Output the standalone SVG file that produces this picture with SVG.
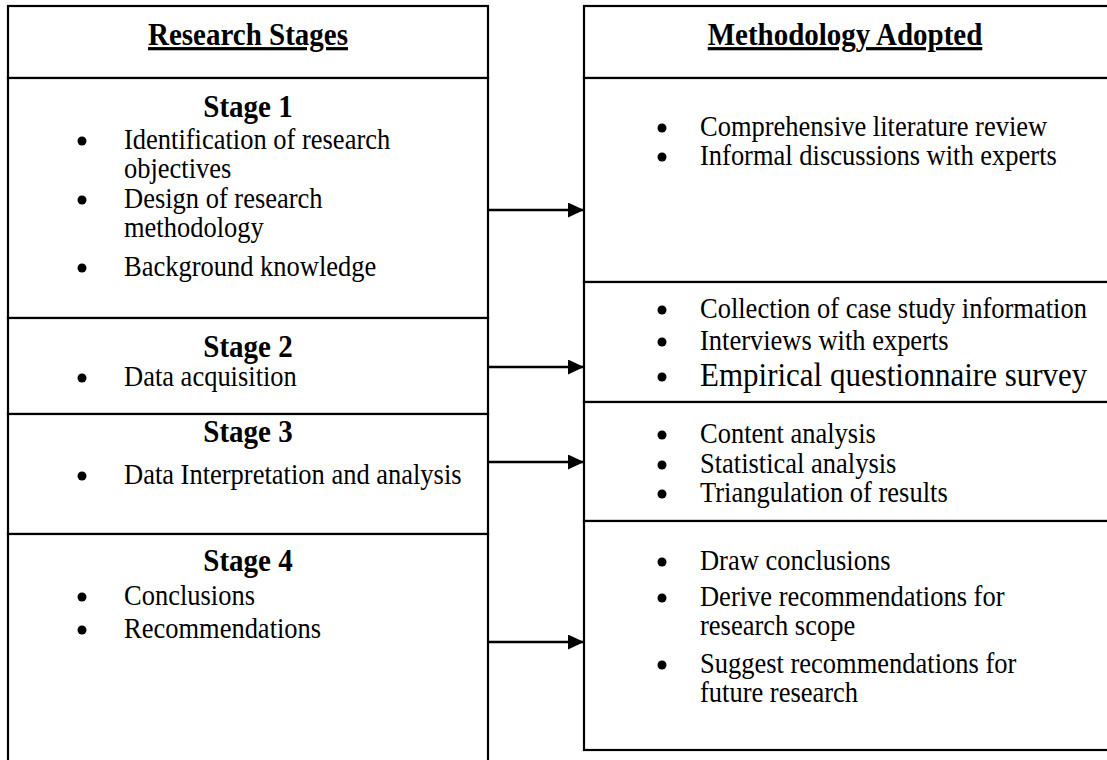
<svg xmlns="http://www.w3.org/2000/svg" width="1107" height="760" viewBox="0 0 1107 760">
  <style>
    .box { fill: #fff; stroke: #000; stroke-width: 2.2; }
    .head { font-family: "Liberation Serif", "Times New Roman", serif; font-size: 29px; font-weight: bold; text-anchor: middle; text-decoration: underline; fill: #000; }
    .stage { font-family: "Liberation Serif", "Times New Roman", serif; font-size: 29px; font-weight: bold; text-anchor: middle; fill: #000; }
    .item { font-family: "Liberation Serif", "Times New Roman", serif; font-size: 26.5px; fill: #000; }
    .big { font-size: 31px; }
    .dot { fill: #000; }
    .conn line { stroke: #000; stroke-width: 2.6; marker-end: url(#head); }
  </style>
  <defs>
    <marker id="head" markerUnits="userSpaceOnUse" markerWidth="17" markerHeight="15" refX="16" refY="7.5" orient="auto">
      <path d="M0,0 L16,7.5 L0,15 Z" fill="#000"/>
    </marker>
  </defs>
  <rect width="1107" height="760" fill="#fff"/>

  <!-- Left column: research stages (text drawn slightly tall: scale 1.1 about each baseline) -->
  <g id="stages-header">
    <rect class="box" x="8" y="6" width="480" height="72"/>
    <text class="head" x="248" y="45" transform="matrix(1,0,0,1.1,0,-4.5)">Research Stages</text>
  </g>
  <g id="stage-1">
    <rect class="box" x="8" y="78" width="480" height="240"/>
    <text class="stage" x="248" y="117" transform="matrix(1,0,0,1.1,0,-11.7)">Stage 1</text>
    <circle class="dot" cx="82" cy="141" r="4.5"/>
    <circle class="dot" cx="82" cy="200" r="4.5"/>
    <circle class="dot" cx="82" cy="268" r="4.5"/>
    <text class="item" x="124" y="149" transform="matrix(1,0,0,1.1,0,-14.9)">Identification of research</text>
    <text class="item" x="124" y="178" transform="matrix(1,0,0,1.1,0,-17.8)">objectives</text>
    <text class="item" x="124" y="208" transform="matrix(1,0,0,1.1,0,-20.8)">Design of research</text>
    <text class="item" x="124" y="237" transform="matrix(1,0,0,1.1,0,-23.7)">methodology</text>
    <text class="item" x="124" y="276" transform="matrix(1,0,0,1.1,0,-27.6)">Background knowledge</text>
  </g>
  <g id="stage-2">
    <rect class="box" x="8" y="318" width="480" height="96"/>
    <text class="stage" x="248" y="357" transform="matrix(1,0,0,1.1,0,-35.7)">Stage 2</text>
    <circle class="dot" cx="82" cy="378" r="4.5"/>
    <text class="item" x="124" y="386" transform="matrix(1,0,0,1.1,0,-38.6)">Data acquisition</text>
  </g>
  <g id="stage-3">
    <rect class="box" x="8" y="414" width="480" height="120"/>
    <text class="stage" x="248" y="442" transform="matrix(1,0,0,1.1,0,-44.2)">Stage 3</text>
    <circle class="dot" cx="82" cy="476" r="4.5"/>
    <text class="item" x="124" y="484" transform="matrix(1,0,0,1.1,0,-48.4)">Data Interpretation and analysis</text>
  </g>
  <g id="stage-4">
    <rect class="box" x="8" y="534" width="480" height="236"/>
    <text class="stage" x="248" y="571" transform="matrix(1,0,0,1.1,0,-57.1)">Stage 4</text>
    <circle class="dot" cx="82" cy="597" r="4.5"/>
    <circle class="dot" cx="82" cy="630" r="4.5"/>
    <text class="item" x="124" y="605" transform="matrix(1,0,0,1.1,0,-60.5)">Conclusions</text>
    <text class="item" x="124" y="638" transform="matrix(1,0,0,1.1,0,-63.8)">Recommendations</text>
  </g>

  <!-- Right column: methodology adopted -->
  <g id="method-header">
    <rect class="box" x="584" y="6" width="530" height="72"/>
    <text class="head" x="845" y="45" transform="matrix(1,0,0,1.1,0,-4.5)">Methodology Adopted</text>
  </g>
  <g id="method-1">
    <rect class="box" x="584" y="78" width="530" height="204"/>
    <circle class="dot" cx="662" cy="128" r="4.5"/>
    <circle class="dot" cx="662" cy="157" r="4.5"/>
    <text class="item" x="700" y="136" transform="matrix(1,0,0,1.1,0,-13.6)">Comprehensive literature review</text>
    <text class="item" x="700" y="165" transform="matrix(1,0,0,1.1,0,-16.5)">Informal discussions with experts</text>
  </g>
  <g id="method-2">
    <rect class="box" x="584" y="282" width="530" height="120"/>
    <circle class="dot" cx="662" cy="310" r="4.5"/>
    <circle class="dot" cx="662" cy="342" r="4.5"/>
    <circle class="dot" cx="662" cy="377" r="4.5"/>
    <text class="item" x="700" y="318" transform="matrix(1,0,0,1.1,0,-31.8)">Collection of case study information</text>
    <text class="item" x="700" y="350" transform="matrix(1,0,0,1.1,0,-35)">Interviews with experts</text>
    <text class="item big" x="700" y="386" transform="matrix(1,0,0,1.1,0,-38.6)">Empirical questionnaire survey</text>
  </g>
  <g id="method-3">
    <rect class="box" x="584" y="402" width="530" height="119"/>
    <circle class="dot" cx="662" cy="435" r="4.5"/>
    <circle class="dot" cx="662" cy="465" r="4.5"/>
    <circle class="dot" cx="662" cy="494" r="4.5"/>
    <text class="item" x="700" y="443" transform="matrix(1,0,0,1.1,0,-44.3)">Content analysis</text>
    <text class="item" x="700" y="473" transform="matrix(1,0,0,1.1,0,-47.3)">Statistical analysis</text>
    <text class="item" x="700" y="502" transform="matrix(1,0,0,1.1,0,-50.2)">Triangulation of results</text>
  </g>
  <g id="method-4">
    <rect class="box" x="584" y="521" width="530" height="229"/>
    <circle class="dot" cx="662" cy="562" r="4.5"/>
    <circle class="dot" cx="662" cy="598" r="4.5"/>
    <circle class="dot" cx="662" cy="665" r="4.5"/>
    <text class="item" x="700" y="570" transform="matrix(1,0,0,1.1,0,-57)">Draw conclusions</text>
    <text class="item" x="700" y="606" transform="matrix(1,0,0,1.1,0,-60.6)">Derive recommendations for</text>
    <text class="item" x="700" y="635" transform="matrix(1,0,0,1.1,0,-63.5)">research scope</text>
    <text class="item" x="700" y="673" transform="matrix(1,0,0,1.1,0,-67.3)">Suggest recommendations for</text>
    <text class="item" x="700" y="702" transform="matrix(1,0,0,1.1,0,-70.2)">future research</text>
  </g>

  <!-- Connectors from each stage to its methods -->
  <g id="connectors" class="conn">
    <line x1="488" y1="210" x2="584" y2="210"/>
    <line x1="488" y1="367" x2="584" y2="367"/>
    <line x1="488" y1="462" x2="584" y2="462"/>
    <line x1="488" y1="642" x2="584" y2="642"/>
  </g>
</svg>
